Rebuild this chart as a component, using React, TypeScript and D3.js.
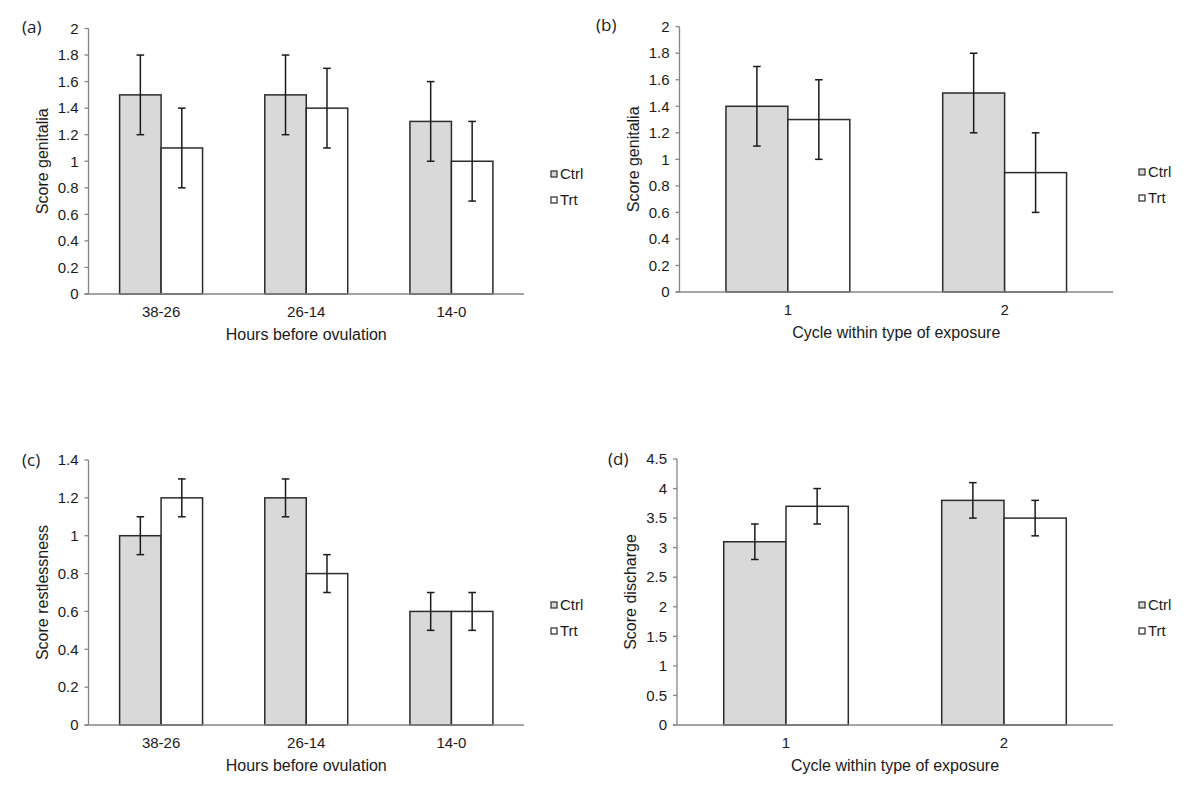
import React from "react";
import * as d3 from "d3";

const hoursCategories = ["38-26", "26-14", "14-0"];
const cycleCategories = ["1", "2"];
const seriesNames = ["Ctrl", "Trt"];

const genitaliaHoursCtrl = [1.5, 1.5, 1.3];
const genitaliaHoursTrt = [1.1, 1.4, 1.0];
const genitaliaHoursErr = [0.3, 0.3, 0.3];

const genitaliaCycleCtrl = [1.4, 1.5];
const genitaliaCycleTrt = [1.3, 0.9];
const genitaliaCycleErr = [0.3, 0.3];

const restlessCtrl = [1.0, 1.2, 0.6];
const restlessTrt = [1.2, 0.8, 0.6];
const restlessErr = [0.1, 0.1, 0.1];

const dischargeCtrl = [3.1, 3.8];
const dischargeTrt = [3.7, 3.5];
const dischargeErr = [0.3, 0.3];

const ticks2 = [0, 0.2, 0.4, 0.6, 0.8, 1, 1.2, 1.4, 1.6, 1.8, 2];
const ticks14 = [0, 0.2, 0.4, 0.6, 0.8, 1, 1.2, 1.4];
const ticks45 = [0, 0.5, 1, 1.5, 2, 2.5, 3, 3.5, 4, 4.5];

const FONT = "'Liberation Sans', Arial, sans-serif";
const AXIS = "#868686";
const CTRL_FILL = "#d9d9d9";
const STROKE = "#2b2b2b";

type PanelProps = {
  label: string;
  left: number;
  right: number;
  y0: number;
  yTop: number;
  yMax: number;
  ticks: number[];
  categories: string[];
  ctrl: number[];
  trt: number[];
  err: number[];
  yTitle: string;
  xTitle: string;
  labelX: number;
  labelY: number;
  legendX: number;
  legendY: number;
};

function Panel(p: PanelProps) {
  const y = d3.scaleLinear().domain([0, p.yMax]).range([p.y0, p.yTop]);
  const x = d3.scaleBand<string>().domain(p.categories).range([p.left, p.right]).padding(0);
  const xs = d3
    .scaleBand<string>()
    .domain(seriesNames)
    .range([0, x.bandwidth()])
    .paddingInner(0)
    .paddingOuter(0.75);
  const fmt = (v: number) => String(Math.round(v * 10) / 10);
  const series = [
    { name: "Ctrl", vals: p.ctrl, fill: CTRL_FILL },
    { name: "Trt", vals: p.trt, fill: "#ffffff" },
  ];
  const cap = 3.8;
  return (
    <g>
      {series.map((s) =>
        p.categories.map((c, i) => {
          const bx = (x(c) as number) + (xs(s.name) as number);
          return (
            <rect
              key={s.name + c}
              x={bx}
              y={y(s.vals[i])}
              width={xs.bandwidth()}
              height={p.y0 - y(s.vals[i])}
              fill={s.fill}
              stroke={STROKE}
              strokeWidth={1.5}
            />
          );
        })
      )}
      <line x1={p.left} x2={p.left} y1={p.yTop} y2={p.y0} stroke={AXIS} strokeWidth={1.3} />
      <line x1={p.left - 4} x2={p.right} y1={p.y0} y2={p.y0} stroke={AXIS} strokeWidth={1.3} />
      {p.ticks.map((t) => (
        <g key={t}>
          <line x1={p.left - 4} x2={p.left} y1={y(t)} y2={y(t)} stroke={AXIS} strokeWidth={1.3} />
          <text
            x={p.left - 10}
            y={y(t)}
            dy="0.35em"
            textAnchor="end"
            fontSize={15}
            fontFamily={FONT}
            fill="#1a1a1a"
          >
            {fmt(t)}
          </text>
        </g>
      ))}
      {series.map((s) =>
        p.categories.map((c, i) => {
          const cx = (x(c) as number) + (xs(s.name) as number) + xs.bandwidth() / 2;
          const hi = y(s.vals[i] + p.err[i]);
          const lo = y(s.vals[i] - p.err[i]);
          return (
            <g key={"e" + s.name + c} stroke="#1a1a1a" strokeWidth={1.5}>
              <line x1={cx} x2={cx} y1={hi} y2={lo} />
              <line x1={cx - cap} x2={cx + cap} y1={hi} y2={hi} />
              <line x1={cx - cap} x2={cx + cap} y1={lo} y2={lo} />
            </g>
          );
        })
      )}
      {p.categories.map((c) => (
        <text
          key={"c" + c}
          x={(x(c) as number) + x.bandwidth() / 2}
          y={p.y0 + 23}
          textAnchor="middle"
          fontSize={15}
          fontFamily={FONT}
          fill="#1a1a1a"
        >
          {c}
        </text>
      ))}
      <text
        x={(p.left + p.right) / 2}
        y={p.y0 + 46}
        textAnchor="middle"
        fontSize={16}
        fontFamily={FONT}
        fill="#1a1a1a"
      >
        {p.xTitle}
      </text>
      <text
        transform={`translate(${p.left - 41},${(p.y0 + p.yTop) / 2}) rotate(-90)`}
        textAnchor="middle"
        fontSize={16}
        fontFamily={FONT}
        fill="#1a1a1a"
      >
        {p.yTitle}
      </text>
      <text x={p.labelX} y={p.labelY} fontSize={17} fontFamily="'Open Sans', sans-serif" fill="#1a1a1a">
        {p.label}
      </text>
      {series.map((s, i) => (
        <g key={"l" + s.name}>
          <rect
            x={p.legendX}
            y={p.legendY + i * 26 - 3}
            width={6}
            height={6}
            fill={s.fill}
            stroke={STROKE}
            strokeWidth={1.2}
          />
          <text
            x={p.legendX + 9}
            y={p.legendY + i * 26}
            dy="0.35em"
            fontSize={15}
            fontFamily={FONT}
            fill="#1a1a1a"
          >
            {s.name}
          </text>
        </g>
      ))}
    </g>
  );
}

export default function App() {
  return (
    <svg
      width={1200}
      height={796}
      style={{ position: "absolute", left: 0, top: 0, background: "#ffffff" }}
    >
      <rect width={1200} height={796} fill="#ffffff" />
      <Panel
        label="(a)"
        left={88.5}
        right={524}
        y0={294}
        yTop={28.5}
        yMax={2}
        ticks={ticks2}
        categories={hoursCategories}
        ctrl={genitaliaHoursCtrl}
        trt={genitaliaHoursTrt}
        err={genitaliaHoursErr}
        yTitle="Score genitalia"
        xTitle="Hours before ovulation"
        labelX={22}
        labelY={33}
        legendX={551}
        legendY={174}
      />
      <Panel
        label="(b)"
        left={679.5}
        right={1113}
        y0={292}
        yTop={26.7}
        yMax={2}
        ticks={ticks2}
        categories={cycleCategories}
        ctrl={genitaliaCycleCtrl}
        trt={genitaliaCycleTrt}
        err={genitaliaCycleErr}
        yTitle="Score genitalia"
        xTitle="Cycle within type of exposure"
        labelX={596}
        labelY={31}
        legendX={1139}
        legendY={172}
      />
      <Panel
        label="(c)"
        left={88.5}
        right={524}
        y0={725}
        yTop={460}
        yMax={1.4}
        ticks={ticks14}
        categories={hoursCategories}
        ctrl={restlessCtrl}
        trt={restlessTrt}
        err={restlessErr}
        yTitle="Score restlessness"
        xTitle="Hours before ovulation"
        labelX={22}
        labelY={466}
        legendX={551}
        legendY={605}
      />
      <Panel
        label="(d)"
        left={677}
        right={1113}
        y0={725}
        yTop={459}
        yMax={4.5}
        ticks={ticks45}
        categories={cycleCategories}
        ctrl={dischargeCtrl}
        trt={dischargeTrt}
        err={dischargeErr}
        yTitle="Score discharge"
        xTitle="Cycle within type of exposure"
        labelX={608}
        labelY={465}
        legendX={1139}
        legendY={605}
      />
    </svg>
  );
}
